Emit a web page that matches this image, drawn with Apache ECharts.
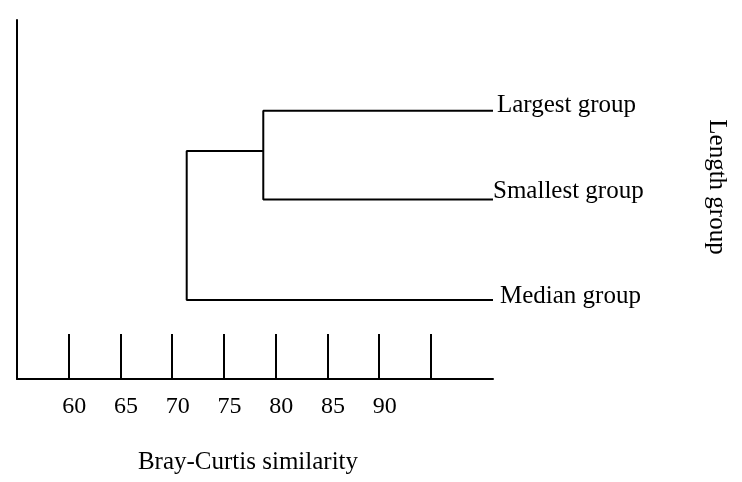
<!DOCTYPE html>
<html>
<head>
<meta charset="utf-8">
<script src="https://cdn.jsdelivr.net/npm/echarts@6/dist/echarts.min.js"></script>
<style>html,body{margin:0;padding:0;background:#fff;}#c{width:742px;height:482px;}</style>
</head>
<body>
<div id="c"></div>
<script>
// ---- data ----
const tickValues = [60, 65, 70, 75, 80, 85, 90, 95];
const tickLabels = [60, 65, 70, 75, 80, 85, 90];
const leafNames = ['Largest group', 'Smallest group', 'Median group'];
const leafHeights = [7.47, 5.0, 2.2];
const leafSimilarity = 101;
const mergeSimilarity = [78.8, 71.4];   // Largest+Smallest, then +Median
const cluster1Height = 6.35;
const xAxisTitle = 'Bray-Curtis similarity';
const yAxisTitle = 'Length group';

const FONT = '"Liberation Serif", "Times New Roman", serif';

const path1 = [
  [leafSimilarity, leafHeights[0]],
  [mergeSimilarity[0], leafHeights[0]],
  [mergeSimilarity[0], leafHeights[1]],
  [leafSimilarity, leafHeights[1]]
];
const path2 = [
  [mergeSimilarity[0], cluster1Height],
  [mergeSimilarity[1], cluster1Height],
  [mergeSimilarity[1], leafHeights[2]],
  [leafSimilarity, leafHeights[2]]
];
const labelOffsets = [[4, -5.5], [0, -8], [7, -3.5]];

const chart = echarts.init(document.getElementById('c'), null, {renderer: 'canvas'});
chart.setOption({
  animation: false,
  backgroundColor: '#fff',
  grid: {left: 17, right: 249, top: 20, bottom: 103},
  xAxis: {
    type: 'value', min: 55, max: 101,
    name: xAxisTitle, nameLocation: 'middle', nameGap: 71,
    nameTextStyle: {fontFamily: FONT, fontSize: 25, color: '#000', padding: [0, 14, 0, 0]},
    axisLine: {show: true, lineStyle: {color: '#000', width: 2}},
    axisTick: {show: true, inside: true, length: 45, customValues: tickValues, lineStyle: {color: '#000', width: 2}},
    axisLabel: {customValues: tickLabels, fontFamily: FONT, fontSize: 24, color: '#000', margin: 16, padding: [0, 0, 0, 11]},
    splitLine: {show: false}
  },
  yAxis: {
    type: 'value', min: 0, max: 10,
    axisLine: {show: true, lineStyle: {color: '#000', width: 2}},
    axisTick: {show: false}, axisLabel: {show: false}, splitLine: {show: false}
  },
  graphic: [{
    type: 'text', x: 717, y: 187, rotation: -Math.PI / 2,
    style: {text: yAxisTitle, font: '25px ' + FONT, fill: '#000', align: 'center', verticalAlign: 'middle'}
  }],
  series: [
    {type: 'line', data: path1, symbol: 'none', lineStyle: {color: '#000', width: 2}},
    {type: 'line', data: path2, symbol: 'none', lineStyle: {color: '#000', width: 2}},
    {
      type: 'scatter', symbolSize: 0, silent: true,
      data: leafNames.map((n, i) => ({
        name: n, value: [leafSimilarity, leafHeights[i]],
        label: {show: true, position: 'right', distance: 0, offset: labelOffsets[i], formatter: n,
          fontFamily: FONT, fontSize: 25, color: '#000', textBorderWidth: 0, opacity: 1}
      }))
    }
  ]
});
</script>
</body>
</html>
